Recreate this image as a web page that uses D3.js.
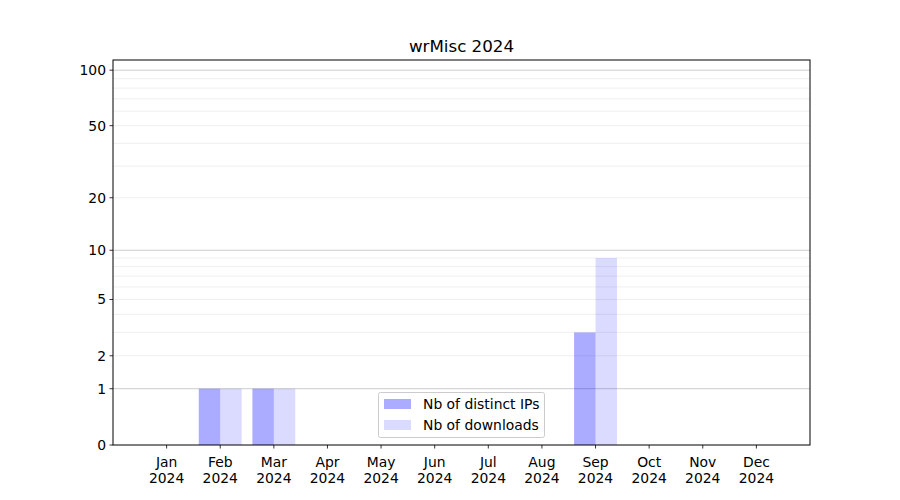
<!DOCTYPE html>
<html><head><meta charset="utf-8">
<script src="https://cdn.jsdelivr.net/npm/d3@7"></script>
<style>body{margin:0;background:#fff}svg{display:block}text{font-family:"DejaVu Sans",sans-serif;fill:#000}</style>
</head><body><svg id="c" width="900" height="500"></svg>
<script>
const months = ["Jan","Feb","Mar","Apr","May","Jun","Jul","Aug","Sep","Oct","Nov","Dec"];
const yearLabel = "2024";
const distinctIPs = [0,1,1,0,0,0,0,0,3,0,0,0];
const downloads  = [0,1,1,0,0,0,0,0,9,0,0,0];
const yTicks = [0,1,2,5,10,20,50,100];
const majorGrid = [1,10,100];
const minorGrid = [2,3,4,5,6,7,8,9,20,30,40,50,60,70,80,90];
const title = "wrMisc 2024";
const seriesNames = ["Nb of distinct IPs","Nb of downloads"];

const svg = d3.select("#c");
const L=113, R=810, T=60, B=445;
const x = d3.scaleLinear().domain([-1,12]).range([L,R]);
const tf = v => Math.log10(1+v);
const ymax = 113.5;
const yl = d3.scaleLinear().domain([0, tf(ymax)]).range([B,T]);
const y = v => yl(tf(v));
const FS = "13.9px";

const g = svg.append("g");
g.selectAll(".mg").data(minorGrid).enter().append("line")
 .attr("x1",L).attr("x2",R).attr("y1",d=>y(d)).attr("y2",d=>y(d))
 .attr("stroke","#ebebeb").attr("stroke-width",0.8);
g.selectAll(".Mg").data(majorGrid).enter().append("line")
 .attr("x1",L).attr("x2",R).attr("y1",d=>y(d)).attr("y2",d=>y(d))
 .attr("stroke","#cccccc").attr("stroke-width",1);

const bw = 0.4;
const idx = d3.range(months.length);
g.selectAll(".b1").data(idx).enter().append("rect")
 .attr("x",i=>x(i-bw)).attr("width",i=>x(i)-x(i-bw))
 .attr("y",i=>y(distinctIPs[i])).attr("height",i=>B-y(distinctIPs[i]))
 .attr("fill","#0000ff").attr("fill-opacity",0.33);
g.selectAll(".b2").data(idx).enter().append("rect")
 .attr("x",i=>x(i)).attr("width",i=>x(i+bw)-x(i))
 .attr("y",i=>y(downloads[i])).attr("height",i=>B-y(downloads[i]))
 .attr("fill","#0000ff").attr("fill-opacity",0.14);

svg.append("rect").attr("x",L).attr("y",T).attr("width",R-L).attr("height",B-T)
 .attr("fill","none").attr("stroke","#000").attr("stroke-width",1);

const ya = svg.append("g");
yTicks.forEach(t=>{
  const yy=y(t);
  ya.append("line").attr("x1",L-3.5).attr("x2",L).attr("y1",yy).attr("y2",yy).attr("stroke","#000").attr("stroke-width",0.8);
  ya.append("text").attr("x",L-7).attr("y",yy).attr("dy","0.35em").attr("text-anchor","end").attr("font-size",FS).text(t);
});
const xa = svg.append("g");
idx.forEach(i=>{
  const xx=x(i);
  xa.append("line").attr("x1",xx).attr("x2",xx).attr("y1",B).attr("y2",B+3.5).attr("stroke","#000").attr("stroke-width",0.8);
  const t = xa.append("text").attr("text-anchor","middle").attr("font-size",FS);
  t.append("tspan").attr("x",xx).attr("y",B+22).text(months[i]);
  t.append("tspan").attr("x",xx).attr("y",B+38).text(yearLabel);
});
svg.append("text").attr("x",(L+R)/2).attr("y",T-8).attr("text-anchor","middle").attr("font-size","16.7px").text(title);

const lg = svg.append("g");
lg.append("rect").attr("x",378.5).attr("y",392.5).attr("width",166).attr("height",45).attr("rx",2)
 .attr("fill","#fff").attr("fill-opacity",0.8).attr("stroke","#cccccc");
const ops=[0.33,0.14];
seriesNames.forEach((s,k)=>{
  const yy=399+k*21;
  lg.append("rect").attr("x",384).attr("y",yy).attr("width",27).attr("height",10).attr("fill","#0000ff").attr("fill-opacity",ops[k]);
  lg.append("text").attr("x",423).attr("y",yy+5).attr("dy","0.35em").attr("font-size",FS).text(s);
});
</script></body></html>
